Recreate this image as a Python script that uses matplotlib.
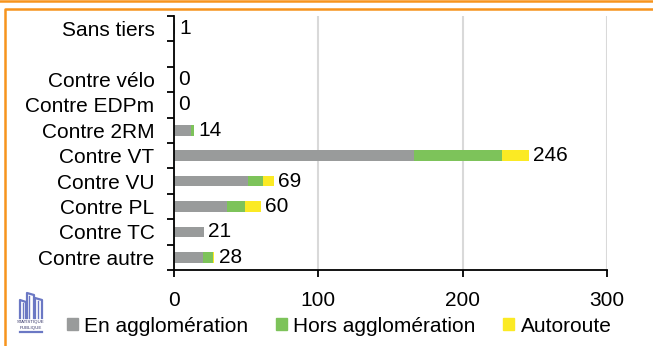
import matplotlib
matplotlib.use("Agg")
import matplotlib.pyplot as plt
from matplotlib.lines import Line2D
from matplotlib.patches import Rectangle
import numpy as np

plt.rcParams['font.family'] = ['Liberation Sans', 'DejaVu Sans']

categories = ["Sans tiers", "", "Contre vélo", "Contre EDPm", "Contre 2RM",
              "Contre VT", "Contre VU", "Contre PL", "Contre TC", "Contre autre"]
en_agglo = [1, 0, 0, 0, 12, 166, 51, 37, 21, 20]
hors_agglo = [0, 0, 0, 0, 2, 61, 11, 12, 0, 7]
autoroute = [0, 0, 0, 0, 0, 19, 7, 11, 0, 1]
totals = ["1", "", "0", "0", "14", "246", "69", "60", "21", "28"]
series_names = ["En agglomération", "Hors agglomération", "Autoroute"]
colors = ["#999B9B", "#7DC35A", "#FBEA24"]
xticks = [0, 100, 200, 300]

W, H = 653, 346
fig = plt.figure(figsize=(W / 100, H / 100), dpi=100)

# orange frame
fig.add_artist(Line2D([0, 1], [1 - 1 / H, 1 - 1 / H], transform=fig.transFigure,
                      color="#F7941D", lw=1.8))
fig.add_artist(Line2D([5 / W, 5 / W, 1], [0, 1 - 8.5 / H, 1 - 8.5 / H],
                      transform=fig.transFigure, color="#F7941D", lw=1.8))

ax = fig.add_axes([174 / W, 1 - 270 / H, (607 - 174) / W, (270 - 16) / H])

n = len(categories)
y = np.arange(n)
left = np.zeros(n)
for vals, name, c in zip([en_agglo, hors_agglo, autoroute], series_names, colors):
    ax.barh(y, vals, left=left, height=0.42, color=c, label=name, zorder=3)
    left = left + np.array(vals)

for yi, tot, lab in zip(y, left, totals):
    if lab:
        ax.annotate(lab, (tot, yi), xytext=(3, 0), textcoords="offset points",
                    va="center", ha="left", fontsize=15, zorder=4)

ax.set_ylim(n - 0.5, -0.5)
ax.set_xlim(0, 300)
ax.set_xticks(xticks)
ax.set_xticklabels([str(v) for v in xticks], fontsize=15)
# boundary tick marks as major ticks, category labels as minor ticks
ax.set_yticks(np.arange(n + 1) - 0.5)
ax.set_yticklabels([""] * (n + 1))
ax.set_yticks(y, minor=True)
ax.set_yticklabels(categories, minor=True, fontsize=15)
ax.tick_params(axis="y", which="major", length=5, width=1.3, color="black", direction="out")
ax.tick_params(axis="y", which="minor", length=0, pad=14)
ax.tick_params(axis="x", which="major", length=5, width=1.3, pad=10, direction="out")
ax.grid(axis="x", color="#D9D9D9", lw=1.5, zorder=0)
ax.grid(axis="y", visible=False)
for s in ["top", "right"]:
    ax.spines[s].set_visible(False)
ax.spines["left"].set_linewidth(1.3)
ax.spines["bottom"].set_linewidth(1.3)
ax.spines["left"].set_zorder(5)

# legend
handles = [Rectangle((0, 0), 1, 1, color=c) for c in colors]
fig.legend(handles, series_names, loc="center", bbox_to_anchor=(339 / W, 1 - 326 / H),
           ncol=3, frameon=False, fontsize=15, handlelength=0.55, handleheight=0.55,
           handletextpad=0.3, columnspacing=1.3, borderaxespad=0)

# logo
lc = "#6B78C4"
def fx(px):
    return px / W
def fy(py):
    return 1 - py / H
for x0, x1, top in [(20, 26, 300), (27, 34, 293), (35, 42, 298)]:
    fig.add_artist(Line2D([fx(x0), fx(x0), fx(x1), fx(x1)],
                          [fy(318), fy(top), fy(top + 2), fy(318)],
                          transform=fig.transFigure, color=lc, lw=1.6))
    fig.add_artist(Line2D([fx(x0 + 2.5), fx(x0 + 2.5)], [fy(318), fy(top + 3)],
                          transform=fig.transFigure, color=lc, lw=1.0))
fig.text(fx(31), fy(322.5), "STATISTIQUE", fontsize=3.2, ha="center", va="center", color="#333366")
fig.text(fx(31), fy(327.5), "PUBLIQUE", fontsize=3.2, ha="center", va="center", color="#333366")
fig.add_artist(Line2D([fx(20), fx(42)], [fy(332), fy(332)], transform=fig.transFigure,
                      color=lc, lw=1.6))

fig.savefig("out.png", dpi=100)
